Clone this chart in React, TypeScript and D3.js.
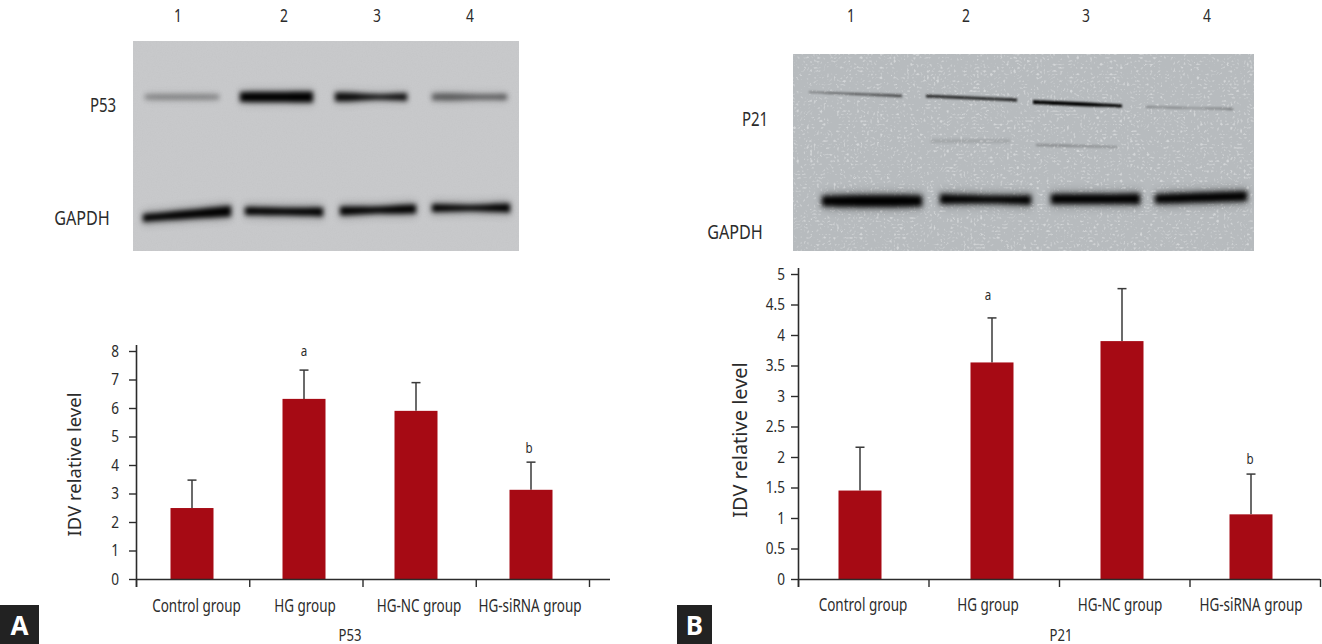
import React, { useRef, useEffect } from 'react';
import * as d3 from 'd3';

const categories = ['Control group', 'HG group', 'HG-NC group', 'HG-siRNA group'];
const laneLabels = ['1', '2', '3', '4'];

// panel A values
const p53Means = [2.49, 6.32, 5.9, 3.13];
const p53ErrorTops = [3.47, 7.33, 6.89, 4.1];
const p53Ticks = [0, 1, 2, 3, 4, 5, 6, 7, 8];
const p53Marks = ['', 'a', '', 'b'];

// panel B values
const p21Means = [1.45, 3.55, 3.9, 1.06];
const p21ErrorTops = [2.16, 4.28, 4.76, 1.72];
const p21Ticks = [0, 0.5, 1, 1.5, 2, 2.5, 3, 3.5, 4, 4.5, 5];
const p21Marks = ['', 'a', '', 'b'];

// band thickness along each lane
const p53Thickness = [[5, 6, 5, 6, 5], [10, 11, 10, 11, 11], [9, 9, 5, 6, 8], [7, 8, 6, 5, 6]];
const p53Strength = [0.34, 1, 0.95, 0.52];
const gapdhAThickness = [[8, 8, 9, 10, 11], [8, 8, 7, 8, 9], [9, 8, 6, 9, 9], [8, 7, 5, 8, 9]];
const p21Thickness = [[1, 1.5, 2, 2.5, 3], [3, 3, 3, 3, 3.5], [4, 4, 4, 3.5, 3], [1.5, 1.5, 1, 1.5, 2]];
const p21Strength = [0.6, 0.8, 1, 0.38];
const gapdhBThickness = [[10, 12, 12, 12, 11], [10, 9, 8, 8, 10], [10, 10, 10, 10, 11], [9, 10, 10, 10, 10]];

const SANS = '"Noto Sans", sans-serif';
const BAR_RED = '#a60a14';
const INK = '#2b2b2b';

// the source type is a condensed face, so the text is squeezed horizontally
const label = (svg: any, text: string, x: number, y: number, size = 17.5, squeeze = 0.77) =>
  svg.append('text')
    .attr('transform', `translate(${x},${y}) scale(${squeeze},1)`)
    .attr('text-anchor', 'middle')
    .attr('dominant-baseline', 'central')
    .attr('font-family', SANS)
    .attr('font-size', size)
    .attr('fill', INK)
    .text(text);

function drawBand(g: any, x0: number, x1: number, y0: number, y1: number, thick: number[], strength: number, filter: string, halo = 0) {
  const t = d3.scaleLinear().domain([0, thick.length - 1]).range([0, 1]);
  const area = d3.area<number>()
    .x((_, i) => x0 + (x1 - x0) * t(i))
    .y0((d, i) => y0 + (y1 - y0) * t(i) - d / 2)
    .y1((d, i) => y0 + (y1 - y0) * t(i) + d / 2)
    .curve(d3.curveBasis);
  if (halo > 0) {
    g.append('path')
      .attr('d', area(thick.map(d => d + 6)))
      .attr('fill', '#101010')
      .attr('opacity', halo)
      .attr('filter', 'url(#halo)');
  }
  g.append('path')
    .attr('d', area(thick))
    .attr('fill', '#050505')
    .attr('opacity', strength)
    .attr('filter', `url(#${filter})`);
}

function drawPanel(svg: any, o: any) {
  const y = d3.scaleLinear().domain([0, o.ticks[o.ticks.length - 1]]).range([o.baseY, o.topY]);
  const edge = d3.scaleLinear().domain([0, 4]).range(o.tickRange);
  const centre = d3.scaleOrdinal<string, number>().domain(categories).range(o.barCentres);
  const labelX = d3.scaleOrdinal<string, number>().domain(categories).range(o.labelCentres);

  const bars = svg.append('g');
  categories.forEach((c, i) => {
    const cx = centre(c);
    // error bar first so that it tucks behind the bar
    bars.append('line')
      .attr('x1', cx).attr('x2', cx)
      .attr('y1', y(o.means[i])).attr('y2', y(o.tops[i]))
      .attr('stroke', '#3a3a3a').attr('stroke-width', 1.5);
    bars.append('line')
      .attr('x1', cx - 4.5).attr('x2', cx + 4.5)
      .attr('y1', y(o.tops[i])).attr('y2', y(o.tops[i]))
      .attr('stroke', '#3a3a3a').attr('stroke-width', 1.5);
    bars.append('rect')
      .attr('x', cx - o.barWidth / 2)
      .attr('width', o.barWidth)
      .attr('y', y(o.means[i]))
      .attr('height', y(0) - y(o.means[i]))
      .attr('fill', BAR_RED);
    if (o.marks[i]) {
      label(svg, o.marks[i], cx + o.markNudge[i], y(o.tops[i]) - o.markGap[i], 15);
    }
    label(svg, c, labelX(c), o.labelY);
  });

  const yAxis = svg.append('g')
    .attr('transform', `translate(${o.tickRange[0]},0)`)
    .call(d3.axisLeft(y).tickValues(o.ticks).tickSize(7).tickPadding(o.tickPad).tickFormat((d: any) => String(d)));
  yAxis.select('.domain').attr('d', `M0.5,${o.baseY + 8}V${o.topY - 6}`);
  yAxis.selectAll('text')
    .attr('transform', 'scale(0.8,1)')
    .attr('x', -(7 + o.tickPad) / 0.8);

  const xAxis = svg.append('g')
    .attr('transform', `translate(0,${o.baseY})`)
    .call(d3.axisBottom(edge).ticks(4).tickSize(8).tickFormat(() => ''));
  xAxis.select('.domain').attr('d', `M${o.tickRange[0]},0.5H${o.axisEnd}`);

  [yAxis, xAxis].forEach(a => {
    a.selectAll('.domain').attr('stroke', INK).attr('stroke-width', 1.6).attr('fill', 'none');
    a.selectAll('line').attr('stroke', INK).attr('stroke-width', 1.4);
    a.selectAll('text').attr('font-family', SANS).attr('font-size', 17).attr('fill', INK);
  });

  const midY = (o.titleY0 + o.titleY1) / 2;
  svg.append('text')
    .attr('transform', `translate(${o.titleX},${midY}) rotate(-90)`)
    .attr('text-anchor', 'middle')
    .attr('dominant-baseline', 'central')
    .attr('font-family', SANS)
    .attr('font-size', o.titleSize)
    .attr('fill', INK)
    .text('IDV relative level');
  label(svg, o.xTitle, o.xTitleX, 634, 17);

  svg.append('rect').attr('x', o.tagX).attr('y', 605).attr('width', o.tagW).attr('height', 39).attr('fill', '#222222');
  label(svg, o.tag, o.tagX + o.tagW / 2, 625, 26, 1)
    .attr('fill', '#ffffff').attr('font-weight', 700);
}

const App: React.FC = () => {
  const svgRef = useRef<SVGSVGElement>(null);

  useEffect(() => {
    if (!svgRef.current) return;
    const svg = d3.select(svgRef.current);
    svg.selectAll('*').remove();

    const defs = svg.append('defs');
    [['soft', 2.6], ['halo', 4.5], ['thin', 1.1], ['faint', 1.6]].forEach(([id, s]) => {
      defs.append('filter')
        .attr('id', id as string)
        .attr('x', '-20%').attr('y', '-300%').attr('width', '140%').attr('height', '700%')
        .append('feGaussianBlur').attr('stdDeviation', s as number);
    });
    const grain = defs.append('filter').attr('id', 'grain').attr('x', 0).attr('y', 0).attr('width', '100%').attr('height', '100%');
    grain.append('feTurbulence').attr('type', 'fractalNoise').attr('baseFrequency', 0.8).attr('numOctaves', 2).attr('seed', 4);
    grain.append('feColorMatrix').attr('values', '0 0 0 0 0.3  0 0 0 0 0.3  0 0 0 0 0.3  0.5 0 0 0 -0.2');
    const speck = defs.append('filter').attr('id', 'speck').attr('x', 0).attr('y', 0).attr('width', '100%').attr('height', '100%');
    speck.append('feTurbulence').attr('type', 'turbulence').attr('baseFrequency', 0.3).attr('numOctaves', 1).attr('seed', 11);
    speck.append('feColorMatrix').attr('values', '0 0 0 0 1  0 0 0 0 1  0 0 0 0 1  3 0 0 0 -0.75');
    speck.append('feGaussianBlur').attr('stdDeviation', 0.5);

    // blot A
    const blotA = svg.append('g');
    blotA.append('rect').attr('x', 133).attr('y', 41).attr('width', 386).attr('height', 210).attr('fill', '#c8c9cb');
    blotA.append('rect').attr('x', 133).attr('y', 41).attr('width', 386).attr('height', 210).attr('filter', 'url(#grain)').attr('opacity', 0.25);
    const laneA = [[145, 219], [240, 313], [335, 407], [432, 507]];
    const gapdhLaneA = [[143, 231], [245, 323], [340, 416], [432, 510]];
    const gapdhYA = [[218, 211], [211, 212], [211, 209], [208, 208]];
    p53Thickness.forEach((th, i) => drawBand(blotA, laneA[i][0], laneA[i][1], 97, 97, th, p53Strength[i], 'soft', 0.12 * p53Strength[i]));
    gapdhAThickness.forEach((th, i) => drawBand(blotA, gapdhLaneA[i][0], gapdhLaneA[i][1], gapdhYA[i][0], gapdhYA[i][1], th, 1, 'soft', 0.22));

    // blot B
    const blotB = svg.append('g');
    blotB.append('rect').attr('x', 793).attr('y', 54).attr('width', 461).attr('height', 197).attr('fill', '#b7bbbe');
    blotB.append('rect').attr('x', 793).attr('y', 54).attr('width', 461).attr('height', 197).attr('filter', 'url(#speck)').attr('opacity', 0.4);
    const laneB = [[809, 902], [926, 1017], [1033, 1122], [1146, 1233]];
    const p21YB = [[92, 96], [96, 100], [102, 106], [107, 109]];
    const gapdhLaneB = [[822, 922], [940, 1031], [1051, 1140], [1155, 1247]];
    const gapdhYB = [[201, 201], [199, 200], [199, 199], [199, 196]];
    p21Thickness.forEach((th, i) => drawBand(blotB, laneB[i][0], laneB[i][1], p21YB[i][0], p21YB[i][1], th, p21Strength[i], 'thin'));
    gapdhBThickness.forEach((th, i) => drawBand(blotB, gapdhLaneB[i][0], gapdhLaneB[i][1], gapdhYB[i][0], gapdhYB[i][1], th, 1, 'soft', 0.25));
    drawBand(blotB, 931, 1010, 141, 141, [3, 3, 3, 3, 3], 0.14, 'faint');
    drawBand(blotB, 1036, 1118, 145, 147, [2, 2.5, 2, 2, 1.5], 0.26, 'thin');

    // lane numbers and protein names
    laneLabels.forEach((l, i) => {
      label(svg, l, [178, 284, 377, 470][i], 15, 18);
      label(svg, l, [851, 966, 1086, 1207][i], 15, 18);
    });
    label(svg, 'P53', 103, 104, 19.5);
    label(svg, 'GAPDH', 82, 217, 19.5, 0.83);
    label(svg, 'P21', 755, 118, 19.5);
    label(svg, 'GAPDH', 735, 231, 19.5, 0.83);

    drawPanel(svg, {
      means: p53Means, tops: p53ErrorTops, ticks: p53Ticks, marks: p53Marks,
      baseY: 579, topY: 351, tickRange: [136, 589], axisEnd: 610, tickPad: 10,
      barCentres: [192, 304, 416, 531], labelCentres: [196.5, 305, 419, 530], barWidth: 43, labelY: 605,
      markNudge: [0, 0, 0, -2], markGap: [0, 20, 0, 15],
      titleX: 73, titleY0: 392, titleY1: 537, titleSize: 18.5, xTitle: 'P53', xTitleX: 350,
      tag: 'A', tagX: 0, tagW: 39,
    });
    drawPanel(svg, {
      means: p21Means, tops: p21ErrorTops, ticks: p21Ticks, marks: p21Marks,
      baseY: 579, topY: 274, tickRange: [798, 1320], axisEnd: 1320, tickPad: 6,
      barCentres: [860, 992, 1122, 1251], labelCentres: [863, 988, 1120, 1251], barWidth: 43, labelY: 604,
      markNudge: [0, -4, 0, -1], markGap: [0, 24, 0, 16],
      titleX: 739, titleY0: 362, titleY1: 518, titleSize: 20, xTitle: 'P21', xTitleX: 1061,
      tag: 'B', tagX: 677, tagW: 35,
    });
  }, []);

  return (
    <svg
      ref={svgRef}
      width={1322}
      height={644}
      style={{ position: 'absolute', left: 0, top: 0, background: '#fff' }}
    />
  );
};

export default App;
